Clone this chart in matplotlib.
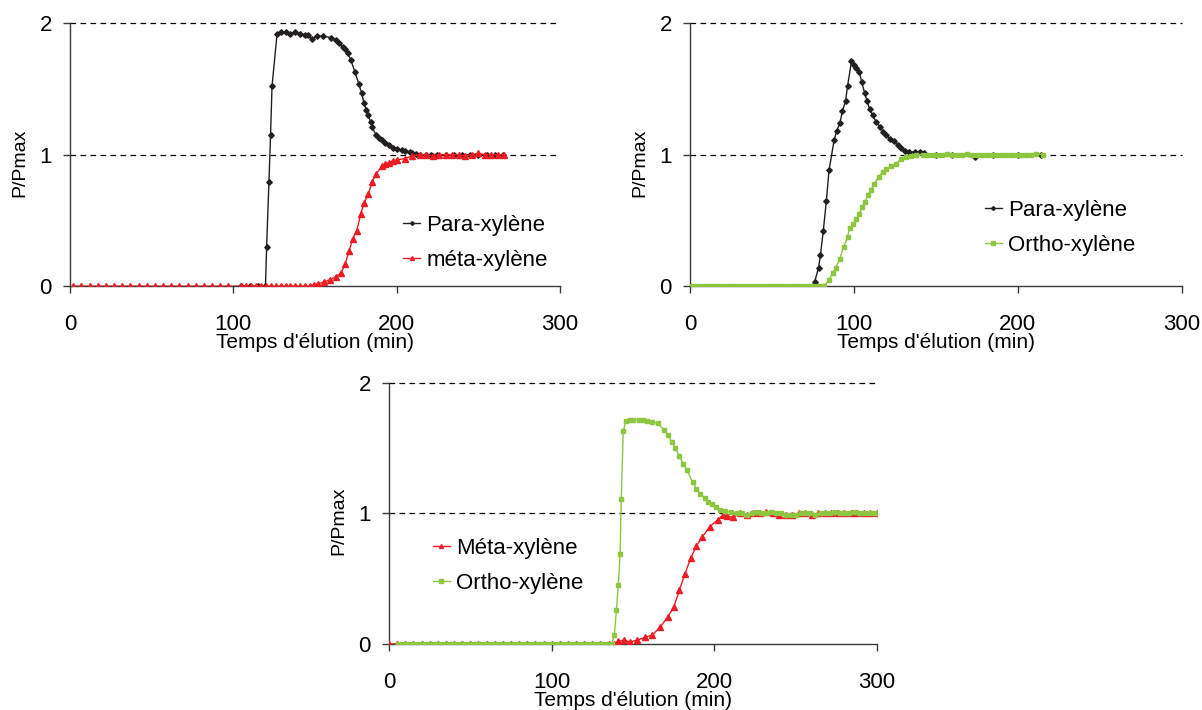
import matplotlib
matplotlib.use('Agg')
import matplotlib.pyplot as plt

plt.rcParams['font.family'] = ['Liberation Sans', 'DejaVu Sans']

# --- data ---
# panel 1 : Para-xylène / méta-xylène
para1_t = [105, 110, 115, 119.7, 120.4, 121.8, 122.8, 123.7, 126.8, 129, 132, 135, 138, 141,
           144, 146, 148, 151, 155, 160, 163, 165, 167, 168.5, 170, 172, 174.4, 176.8, 178.5,
           180, 181.5, 182.6, 184, 185, 187.3, 189, 190.8, 193, 195.5, 198, 200, 203, 205,
           208, 209.6, 212, 214, 218, 221, 225, 230, 235, 240, 245, 250, 255, 260, 265]
para1_v = [0, 0, 0, 0, 0.30, 0.79, 1.15, 1.52, 1.92, 1.93, 1.93, 1.92, 1.93, 1.92,
           1.91, 1.91, 1.88, 1.90, 1.90, 1.89, 1.87, 1.85, 1.82, 1.80, 1.77, 1.72, 1.63, 1.54, 1.47,
           1.39, 1.34, 1.30, 1.25, 1.21, 1.15, 1.13, 1.11, 1.09, 1.07, 1.05, 1.04, 1.035, 1.03,
           1.02, 1.01, 1.005, 1.0, 1.0, 1.0, 1.0, 1.0, 1.0, 1.0, 1.0, 1.0, 1.0, 1.0, 1.0]

meta1_t = [2, 7, 12, 17, 22, 27, 32, 37, 42, 47, 52, 57, 62, 67, 72, 77, 82, 87, 92, 97,
           105, 108, 111, 114, 117, 120, 123, 126, 129, 132, 135, 138, 141, 144, 147,
           149.5, 152, 155.6, 159, 162.7, 166, 168.5, 171, 173, 175.6, 178, 180, 182.6, 185,
           187.3, 190.8, 193, 195.5, 198, 200, 205, 209.6, 214, 218, 222, 226, 230, 234, 238,
           242, 246, 250, 254, 258, 262, 266]
meta1_v = [0, 0, 0, 0, 0, 0, 0, 0, 0, 0, 0, 0, 0, 0, 0, 0, 0, 0, 0, 0,
           0, 0, 0, 0, 0, 0, 0, 0, 0, 0, 0, 0, 0, 0, 0,
           0.01, 0.02, 0.03, 0.05, 0.07, 0.10, 0.17, 0.27, 0.36, 0.42, 0.55, 0.63, 0.70, 0.79,
           0.85, 0.91, 0.93, 0.94, 0.955, 0.96, 0.97, 0.99, 1.0, 1.0, 0.99, 1.0, 1.0, 1.0, 1.0,
           0.99, 1.0, 1.01, 1.0, 1.0, 1.0, 1.0]

# panel 2 : Para-xylène / Ortho-xylène
para2_t = [0, 75, 76, 78.4, 79.6, 81.3, 83.2, 84.8, 87.9, 89.5, 91.4, 93, 94.9, 96.1, 98.5,
           100.3, 101.5, 103.2, 104.8, 106.5, 107.9, 109.5, 111.4, 113.5, 116, 118, 119.6, 122,
           124.3, 127, 129, 131, 133.8, 137, 140, 143, 150, 160, 174, 185, 200, 214]
para2_v = [0, 0, 0.03, 0.14, 0.24, 0.42, 0.65, 0.88, 1.11, 1.18, 1.24, 1.33, 1.41, 1.52, 1.71,
           1.68, 1.66, 1.63, 1.55, 1.47, 1.41, 1.35, 1.30, 1.25, 1.21, 1.17, 1.15, 1.12,
           1.10, 1.07, 1.05, 1.03, 1.02, 1.02, 1.02, 1.01, 1.0, 1.0, 0.98, 1.0, 1.0, 1.0]

ortho2_t = [0, 3, 6, 9, 12, 15, 18, 21, 24, 27, 30, 33, 36, 39, 42, 45, 48, 51, 54, 57, 60,
            63, 66, 69, 72, 75, 78, 81, 82, 84.8, 87, 89, 91.4, 93.8, 96.1, 97.3, 99.6, 101.5,
            103.2, 105, 106.7, 108.5, 110.2, 112.5, 115, 117.5, 119.6, 122.5, 125.6, 129, 132,
            135, 138, 142, 145, 148, 151, 154, 157, 160, 163, 166, 169, 172, 175, 178, 181,
            184, 187, 190, 193, 196, 199, 202, 205, 208, 211, 215]
ortho2_v = [0, 0, 0, 0, 0, 0, 0, 0, 0, 0, 0, 0, 0, 0, 0, 0, 0, 0, 0, 0, 0,
            0, 0, 0, 0, 0, 0, 0, 0, 0.05, 0.10, 0.14, 0.21, 0.30, 0.37, 0.44, 0.47, 0.51,
            0.55, 0.60, 0.64, 0.69, 0.73, 0.78, 0.83, 0.87, 0.89, 0.91, 0.93, 0.97, 0.98,
            0.99, 1.0, 1.0, 1.0, 1.0, 1.0, 1.0, 1.005, 1.0, 1.0, 1.0, 1.005, 1.0, 1.0, 1.0, 1.0,
            1.0, 1.0, 1.0, 1.0, 1.0, 1.0, 1.0, 1.0, 1.0, 1.005, 1.0]

# panel 3 : Méta-xylène / Ortho-xylène
meta3_t = [0, 5, 10, 15, 20, 25, 30, 35, 40, 45, 50, 55, 60, 65, 70, 75, 80, 85, 90, 95, 100,
           105, 110, 115, 120, 125, 130, 135, 138.6, 141, 144.5, 148, 152.7, 157.4, 162, 166.8,
           171.5, 175, 178.5, 182, 185.6, 189, 192.6, 197.3, 202, 205.5, 208, 211.4, 216, 220,
           224, 228, 232, 236, 240, 244, 248, 252, 256, 260, 264, 268, 272, 276, 280, 284, 288,
           292, 296, 300]
meta3_v = [0, 0, 0, 0, 0, 0, 0, 0, 0, 0, 0, 0, 0, 0, 0, 0, 0, 0, 0, 0, 0,
           0, 0, 0, 0, 0, 0, 0, 0, 0.02, 0.03, 0.015, 0.03, 0.05, 0.07, 0.13,
           0.21, 0.28, 0.41, 0.54, 0.66, 0.75, 0.82, 0.90, 0.95, 0.99, 0.98, 0.97, 1.0, 0.99,
           1.0, 1.0, 1.01, 1.0, 0.99, 0.99, 0.99, 1.0, 1.0, 0.99, 1.0, 1.0, 1.0, 1.0, 1.0, 1.0, 1.0,
           1.0, 1.0, 1.0]

ortho3_t = [5.4, 8, 11, 14, 17, 20, 23, 26, 29, 32, 35, 38, 41, 44, 47, 50, 53, 56, 59, 62, 65,
            68, 71, 74, 77, 80, 83, 86, 89, 92, 95, 98, 101, 104, 107, 110, 113, 116, 119, 122,
            125, 128, 131, 134, 137, 138.6, 139.8, 141, 142.1, 142.8, 144, 145.6, 148, 150.3,
            153.9, 156, 158.6, 162, 165.6, 169, 171.5, 173.8, 176, 178.5, 181, 183.2, 186.7,
            189, 191.5, 194, 196.2, 198.5, 200.8, 203.5, 206.7, 210, 213.8, 217, 220, 223, 226,
            229, 232, 235, 238, 241, 244, 247, 250, 253, 256, 259, 262, 265, 268, 271, 274, 277,
            280, 283, 286, 289, 292, 295, 298, 300]
ortho3_v = [0, 0, 0, 0, 0, 0, 0, 0, 0, 0, 0, 0, 0, 0, 0, 0, 0, 0, 0, 0, 0,
            0, 0, 0, 0, 0, 0, 0, 0, 0, 0, 0, 0, 0, 0, 0, 0, 0, 0, 0,
            0, 0, 0, 0, 0, 0.07, 0.26, 0.45, 0.69, 1.11, 1.63, 1.71, 1.72, 1.72,
            1.72, 1.715, 1.71, 1.70, 1.69, 1.64, 1.60, 1.55, 1.50, 1.44, 1.38, 1.33, 1.24,
            1.19, 1.15, 1.12, 1.09, 1.07, 1.05, 1.03, 1.02, 1.01, 1.0, 1.0, 0.99, 1.0, 1.01,
            1.0, 1.0, 1.01, 1.0, 1.0, 0.99, 0.99, 0.99, 1.0, 1.0, 1.0, 0.99, 1.0, 1.0, 1.0, 1.01,
            1.0, 1.0, 1.0, 1.01, 1.0, 1.0, 1.0, 1.0, 1.0]

black = '#231f20'
red = '#ed1c24'
green = '#8dc63f'

leg_kw = dict(loc='upper left', frameon=False, fontsize=16, handlelength=0.75,
              handletextpad=0.3, labelspacing=0.62, borderpad=0, borderaxespad=0,
              markerscale=0.7)


def style(ax):
    ax.set_xlim(0, 300)
    ax.set_ylim(0, 2)
    ax.set_xticks([0, 100, 200, 300])
    ax.set_yticks([0, 1, 2])
    for s in ['top', 'right']:
        ax.spines[s].set_visible(False)
    for s in ['left', 'bottom']:
        ax.spines[s].set_color('#3a3a3a')
        ax.spines[s].set_linewidth(1.0)
    for yv in [1, 2]:
        ax.axhline(yv, color='black', lw=0.9, dashes=(4.5, 3.5), zorder=1, clip_on=False)
    ax.tick_params(axis='x', direction='out', length=5, width=1, color='#3a3a3a',
                   pad=15, labelsize=16)
    ax.tick_params(axis='y', direction='out', length=5, width=1, color='#3a3a3a',
                   pad=8, labelsize=16)
    ax.set_xlabel("Temps d'élution (min)", fontsize=15, labelpad=-1.5)
    ax.set_ylabel('P/Pmax', fontsize=14)
    ax.yaxis.set_label_coords(-0.085, 0.47)


fig = plt.figure(figsize=(12.02, 7.10), dpi=100)

ax1 = fig.add_axes([0.0582, 0.597, 0.4077, 0.3704])
style(ax1)
ax1.plot(para1_t, para1_v, color=black, lw=1, marker='D', ms=2.8, label='Para-xylène', zorder=3)
ax1.plot(meta1_t, meta1_v, color=red, lw=1, marker='^', ms=4, label='méta-xylène', zorder=4)
ax1.legend(bbox_to_anchor=(0.68, 0.27), **leg_kw)

ax2 = fig.add_axes([0.574, 0.597, 0.4093, 0.3704])
style(ax2)
ax2.plot(para2_t, para2_v, color=black, lw=1, marker='D', ms=2.8, label='Para-xylène', zorder=3)
ax2.plot(ortho2_t, ortho2_v, color=green, lw=1, marker='s', ms=3.5, label='Ortho-xylène', zorder=4)
ax2.legend(bbox_to_anchor=(0.60, 0.327), **leg_kw)

ax3 = fig.add_axes([0.3236, 0.093, 0.406, 0.3676])
style(ax3)
ax3.plot(meta3_t, meta3_v, color=red, lw=1, marker='^', ms=4, label='Méta-xylène', zorder=3)
ax3.plot(ortho3_t, ortho3_v, color=green, lw=1, marker='s', ms=3.5, label='Ortho-xylène', zorder=4)
ax3.legend(bbox_to_anchor=(0.09, 0.406), **leg_kw)

fig.savefig('out.png', dpi=100)
